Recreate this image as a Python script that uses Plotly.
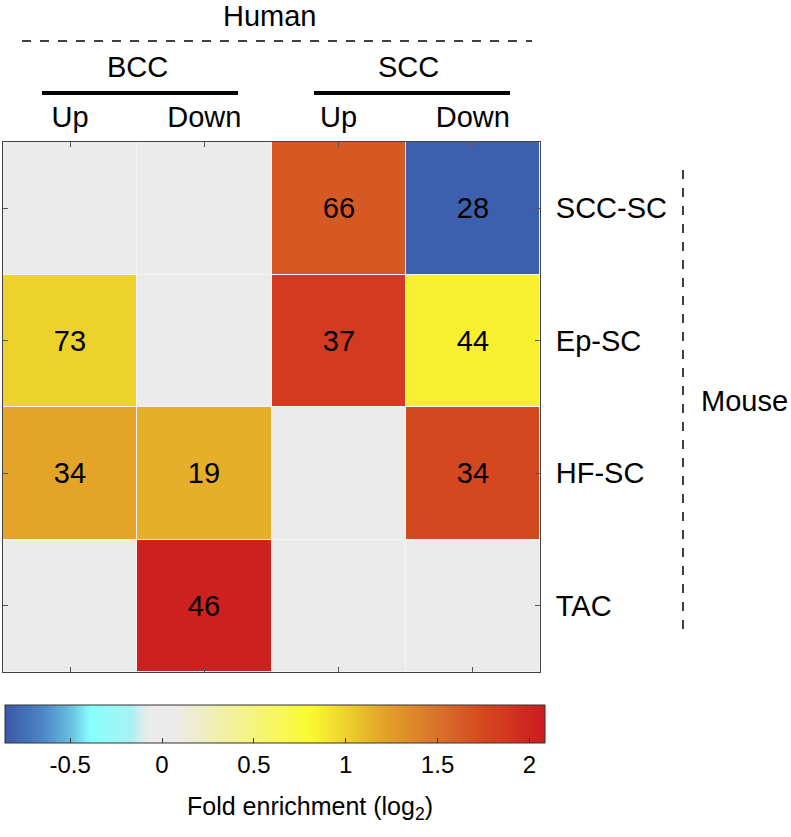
import plotly.graph_objects as go

# ---- data ----
columns = ["Up", "Down", "Up", "Down"]          # BCC Up, BCC Down, SCC Up, SCC Down
column_ids = ["BCC-Up", "BCC-Down", "SCC-Up", "SCC-Down"]
rows = ["SCC-SC", "Ep-SC", "HF-SC", "TAC"]
fold_log2 = [
    [0.0, 0.0, 1.65, -0.82],
    [1.0, 0.0, 1.85, 0.85],
    [1.2, 1.15, 0.0, 1.75],
    [0.0, 2.05, 0.0, 0.0],
]
gene_counts = [
    ["", "", "66", "28"],
    ["73", "", "37", "44"],
    ["34", "19", "", "34"],
    ["", "46", "", ""],
]
cbar_ticks = [-0.5, 0, 0.5, 1, 1.5, 2]
cbar_ticktext = ["-0.5", "0", "0.5", "1", "1.5", "2"]
zmin, zmax = -0.855, 2.085

# colour stops (value, colour)
stops = [
    (-0.855, "#3a58aa"),
    (-0.65, "#4c85c4"),
    (-0.5, "#68bde0"),
    (-0.39, "#88ffff"),
    (-0.17, "#a8f2f2"),
    (-0.08, "#ebebeb"),
    (0.065, "#ebebeb"),
    (0.8, "#fafa30"),
    (1.0, "#eed22c"),
    (1.2, "#e3a428"),
    (1.5, "#d8722a"),
    (1.75, "#d4481f"),
    (2.085, "#cc1b1f"),
]
colorscale = [[(v - zmin) / (zmax - zmin), c] for v, c in stops]

W, H = 791, 837
L, R, T, B = 3, 251, 142, 165
pw, ph = W - L - R, H - T - B


def px(x):
    return (x - L) / pw


def py(y):
    return (H - B - y) / ph


FONT = "Liberation Sans, Arial, sans-serif"

fig = go.Figure(
    go.Heatmap(
        z=fold_log2,
        x=column_ids,
        y=rows,
        text=gene_counts,
        texttemplate="%{text}",
        textfont=dict(size=29, color="black", family=FONT),
        colorscale=colorscale,
        zmin=zmin,
        zmax=zmax,
        xgap=1,
        ygap=1,
        colorbar=dict(
            orientation="h",
            lenmode="pixels",
            len=540,
            thickness=38,
            x=px(275),
            xanchor="center",
            y=py(705),
            yanchor="top",
            xpad=0,
            ypad=0,
            outlinewidth=1,
            outlinecolor="#333",
            tickvals=cbar_ticks,
            ticktext=cbar_ticktext,
            ticks="inside",
            ticklen=5,
            tickcolor="#333",
            tickfont=dict(size=24, color="black", family=FONT),
        ),
        hoverongaps=False,
    )
)

fig.update_xaxes(
    side="top",
    tickvals=column_ids,
    ticktext=columns,
    ticks="inside",
    ticklen=5,
    tickcolor="#555",
    showline=True,
    linecolor="#444",
    linewidth=1,
    mirror="ticks",
    ticklabelstandoff=2,
    tickfont=dict(size=29, color="black", family=FONT),
    showgrid=False,
    zeroline=False,
)
fig.update_yaxes(
    side="right",
    autorange="reversed",
    ticks="inside",
    ticklen=5,
    tickcolor="#555",
    showline=True,
    linecolor="#444",
    linewidth=1,
    mirror="ticks",
    ticklabelstandoff=9,
    tickfont=dict(size=29, color="black", family=FONT),
    showgrid=False,
    zeroline=False,
)

annotations = [
    dict(text="Human", x=px(270), y=py(16), size=29),
    dict(text="BCC", x=px(137), y=py(67), size=29),
    dict(text="SCC", x=px(408), y=py(67), size=29),
    dict(text="Mouse", x=px(744), y=py(401), size=29),
    dict(text="Fold enrichment (log<sub>2</sub>)", x=px(310), y=py(808), size=25),
]
for a in annotations:
    sz = a.pop("size")
    a.update(xref="paper", yref="paper", showarrow=False,
             xanchor="center", yanchor="middle",
             font=dict(size=sz, color="black", family=FONT))

shapes = [
    dict(type="line", x0=px(22), x1=px(532), y0=py(41), y1=py(41),
         line=dict(color="black", width=1.5, dash="dash")),
    dict(type="line", x0=px(42), x1=px(238), y0=py(93), y1=py(93),
         line=dict(color="black", width=4)),
    dict(type="line", x0=px(314), x1=px(510), y0=py(93), y1=py(93),
         line=dict(color="black", width=4)),
    dict(type="line", x0=px(683), x1=px(683), y0=py(170), y1=py(632),
         line=dict(color="black", width=1.5, dash="dash")),
]
for s in shapes:
    s.update(xref="paper", yref="paper")

fig.update_layout(
    width=W,
    height=H,
    margin=dict(l=L, r=R, t=T, b=B, pad=0),
    paper_bgcolor="white",
    plot_bgcolor="#f4f4f4",
    annotations=annotations,
    shapes=shapes,
    font=dict(family=FONT, color="black"),
)

fig.write_html(
    "out.html",
    config={"displayModeBar": False},
    post_script="document.body.style.margin='0';document.body.style.overflow='hidden';",
)
